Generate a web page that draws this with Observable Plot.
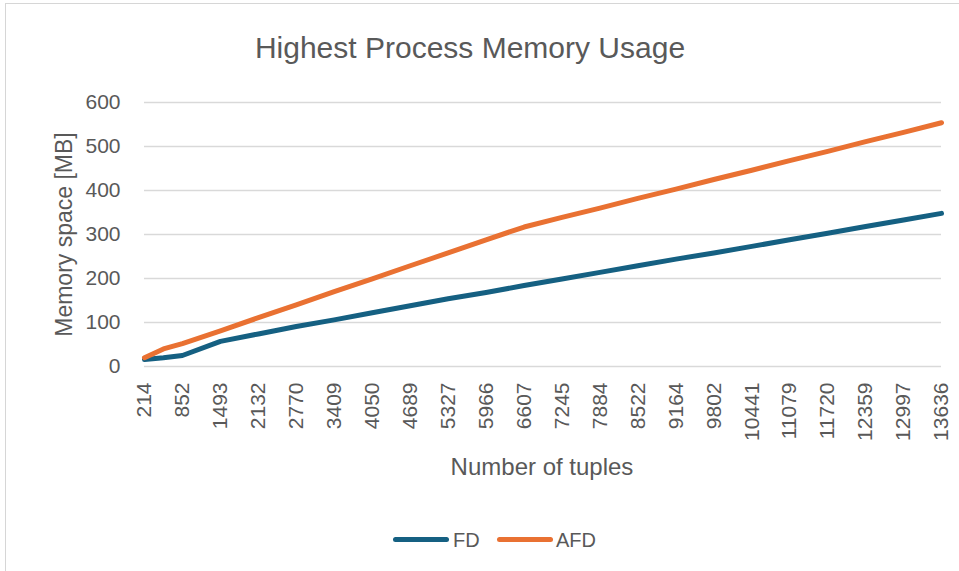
<!DOCTYPE html>
<html>
<head>
<meta charset="utf-8">
<script src="https://cdn.jsdelivr.net/npm/d3@7"></script>
<script src="https://cdn.jsdelivr.net/npm/@observablehq/plot@0.6"></script>
<style>
  html, body { margin: 0; padding: 0; background: #fff; }
  #wrap { position: relative; width: 959px; height: 571px; overflow: hidden; font-family: "Liberation Sans", Arial, sans-serif; color: #595959; }
  #frame { position: absolute; left: 5px; top: 3px; width: 1100px; height: 700px; border: 1.5px solid #d6d6d6; box-sizing: border-box; }
  .lbl { position: absolute; line-height: 1; white-space: nowrap; }
  #chart { position: absolute; left: 0; top: 0; }
  .sw { position: absolute; height: 5px; border-radius: 3px; }
</style>
</head>
<body>
<div id="wrap">
  <div id="frame"></div>
  <div id="chart"></div>
  <div class="lbl" id="title" style="left:0;width:940px;text-align:center;top:33px;font-size:30px;">Highest Process Memory Usage</div>
  <div class="lbl" id="ylab" style="left:-86px;width:300px;text-align:center;top:223px;font-size:23px;transform:rotate(-90deg);">Memory space [MB]</div>
  <div class="lbl" id="xlab" style="left:392px;width:300px;text-align:center;top:455px;font-size:24px;">Number of tuples</div>
  <div id="legend"></div>
</div>
<script>
// ---- data ----
const tickLabels = [214, 852, 1493, 2132, 2770, 3409, 4050, 4689, 5327, 5966, 6607, 7245, 7884, 8522, 9164, 9802, 10441, 11079, 11720, 12359, 12997, 13636];
const tuples = [214, 533, 852, 1493, 2132, 2770, 3409, 4050, 4689, 5327, 5966, 6607, 7245, 7884, 8522, 9164, 9802, 10441, 11079, 11720, 12359, 12997, 13636];
const fd  = [16, 20, 25, 57, 74, 91, 106, 122, 138, 154, 168, 184, 199, 214, 229, 244, 258, 273, 288, 303, 318, 333, 348];
const afd = [20, 40, 52, 81, 111, 140, 170, 199, 229, 258, 288, 317, 339, 360, 382, 403, 425, 446, 468, 489, 511, 532, 554];
const yTicks = [0, 100, 200, 300, 400, 500, 600];
const seriesNames = ["FD", "AFD"];
const seriesColors = ["#156082", "#E97132"];

const data = tuples.map((t, i) => ({t, fd: fd[i], afd: afd[i]}));

const chart = Plot.plot({
  width: 959,
  height: 571,
  marginTop: 102,
  marginBottom: 205,
  marginLeft: 144,
  marginRight: 18,
  style: {fontFamily: "'Liberation Sans', Arial, sans-serif", fontSize: "21px", color: "#595959", background: "transparent", overflow: "visible"},
  x: {type: "linear", domain: [214, 13636]},
  y: {domain: [0, 600]},
  marks: [
    Plot.ruleY(yTicks, {stroke: "#d9d9d9", strokeWidth: 1.3}),
    Plot.axisX(tickLabels, {tickRotate: -90, tickSize: 0, tickPadding: 16, tickFormat: d => String(d), label: null, fontSize: 21}),
    Plot.axisY(yTicks, {tickSize: 0, tickPadding: 24, label: null, fontSize: 21}),
    Plot.line(data, {x: "t", y: "fd", stroke: seriesColors[0], strokeWidth: 5, strokeLinejoin: "round", strokeLinecap: "round"}),
    Plot.line(data, {x: "t", y: "afd", stroke: seriesColors[1], strokeWidth: 5, strokeLinejoin: "round", strokeLinecap: "round"})
  ]
});
document.getElementById("chart").appendChild(chart);

// ---- legend ----
const legend = document.getElementById("legend");
const legendPos = [{line: 393, text: 453}, {line: 497, text: 556}];
seriesNames.forEach((name, i) => {
  const sw = document.createElement("div");
  sw.className = "sw";
  sw.style.left = legendPos[i].line + "px";
  sw.style.top = "536.5px";
  sw.style.width = "56px";
  sw.style.background = seriesColors[i];
  legend.appendChild(sw);
  const tx = document.createElement("div");
  tx.className = "lbl";
  tx.style.left = legendPos[i].text + "px";
  tx.style.top = "530px";
  tx.style.fontSize = "20px";
  tx.textContent = name;
  legend.appendChild(tx);
});
</script>
</body>
</html>
